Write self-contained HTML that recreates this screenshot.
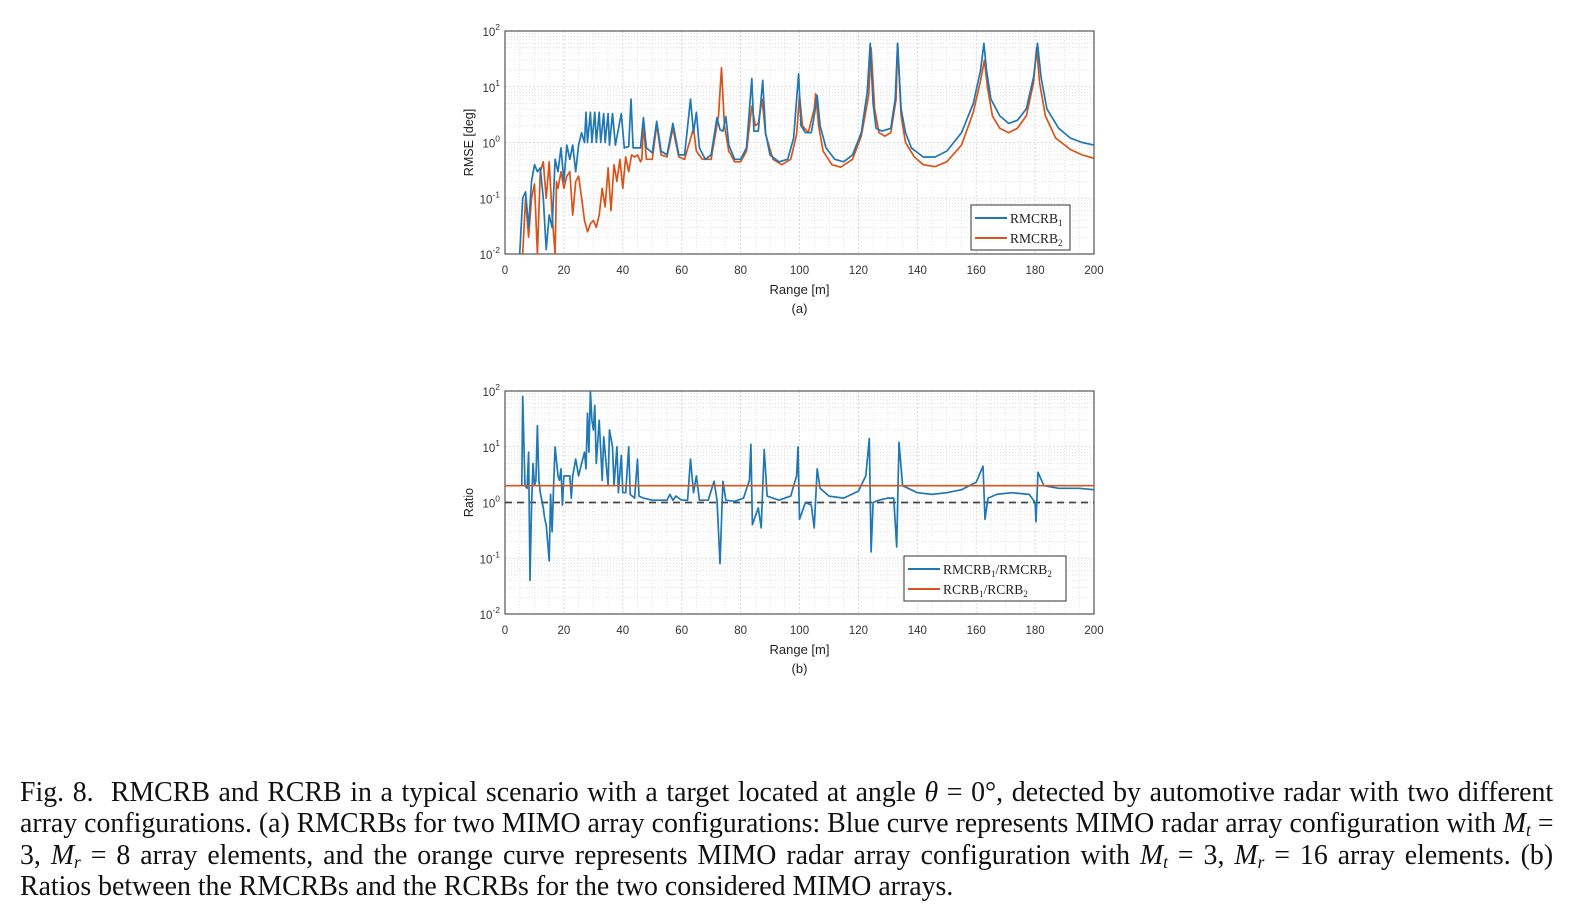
<!DOCTYPE html>
<html><head><meta charset="utf-8">
<style>
body{margin:0;background:#fff;width:1579px;height:907px;overflow:hidden;position:relative;font-family:"Liberation Sans",sans-serif}
#cap{position:absolute;left:20px;top:777px;width:1597px;transform:scaleX(0.96);transform-origin:0 0;font-family:"Liberation Serif",serif;font-size:29px;line-height:31.3px;color:#111}
#cap .j{text-align:justify;text-align-last:justify;white-space:nowrap}
#cap i{font-style:italic}
#cap sub{font-size:18px;line-height:0;vertical-align:-4px}
</style></head><body>
<svg id="svg" width="1579" height="760" style="position:absolute;left:0;top:0" font-family="Liberation Sans, sans-serif"></svg>
<div id="cap">
<div class="j">Fig. 8.&nbsp; RMCRB and RCRB in a typical scenario with a target located at angle <i>θ</i> = 0°, detected by automotive radar with two different</div>
<div class="j">array configurations. (a) RMCRBs for two MIMO array configurations: Blue curve represents MIMO radar array configuration with <i>M<sub>t</sub></i> =</div>
<div class="j">3, <i>M<sub>r</sub></i> = 8 array elements, and the orange curve represents MIMO radar array configuration with <i>M<sub>t</sub></i> = 3, <i>M<sub>r</sub></i> = 16 array elements. (b)</div>
<div>Ratios between the RMCRBs and the RCRBs for the two considered MIMO arrays.</div>
</div>
<script>
const xTicks=[0,20,40,60,80,100,120,140,160,180,200];
const yExps=[-2,-1,0,1,2];
const rm1X=[5,6,7,8,9,10,11,12,13,14,15,16,17,18,19,20,21,22,23,24,25,26,27,27.5,28,29,29.5,30.5,31,32,32.5,33.5,34,35,35.5,36.5,37.5,39.5,40.5,42,42.8,43.5,46,47,48,50,51.5,53,55,57,59,61,63,64,65,66,68,70,72,73,74,75,76,78,80,82,83.8,84.5,86,87.5,88.5,90,93,96,98,99.7,100.5,102,104,105,106,107,109,112,115,118,121,123,124,125,126,128,131,132.5,133.3,134.5,136,138,142,146,150,155,159,161.5,162.6,163.5,165,168,171,174,177,179.5,180.8,182,184,188,192,196,200];
const rm1Y=[0.01,0.1,0.13,0.03,0.2,0.4,0.3,0.35,0.1,0.012,0.05,0.03,0.5,0.3,0.8,0.2,0.9,0.5,0.9,0.3,0.9,1.5,1.0,3.5,1.0,3.5,1.0,3.5,1.0,3.5,1.0,3.3,1.0,3.3,0.9,3.3,0.9,3.3,0.8,0.85,6,0.8,0.8,2.8,0.8,0.65,2.4,0.7,0.6,2.2,0.6,0.6,6,1.5,3.5,0.8,0.5,0.6,2.8,1.7,1.6,2.9,0.9,0.5,0.5,0.8,14,1.6,1.6,13,1.5,0.6,0.45,0.5,1.2,17,2,1.5,1.5,3,7,2,0.8,0.5,0.45,0.6,1.5,8,60,5,1.8,1.6,1.8,6,60,4,1.5,0.8,0.55,0.55,0.7,1.5,5,20,60,20,6,3,2.2,2.5,4,15,60,15,4,1.8,1.2,1.0,0.9];
const rm2X=[6,7,8,9,10,11,12,13,14,15,16,17,17.5,18,19,20,21,22,23,24,25,26,27,28,29,30,31,32,33,34,35,36,37,38,39,40,41,42,43,44,45,46,46.5,47,48,50,51.5,53,55,57,59,61,64,65,67,70,72.5,73.5,74.5,76,78,80,82,83.8,85,86,87.3,88.5,91,94,97,99,100,101,103,105,105.5,106.5,108,111,114,118,121,123.5,124.3,125.5,127,129,131,132.8,133.3,134.5,136,139,142,146,150,155,159,161.5,162.8,163.8,165.5,168,171,174,177,179.5,180.5,181.5,183.5,187,192,196,200];
const rm2Y=[0.01,0.1,0.02,0.1,0.18,0.01,0.3,0.45,0.1,0.45,0.05,0.01,0.2,0.15,0.3,0.15,0.25,0.3,0.05,0.2,0.25,0.1,0.04,0.025,0.035,0.04,0.03,0.05,0.15,0.07,0.35,0.06,0.4,0.2,0.5,0.15,0.55,0.3,0.6,0.55,0.6,0.45,0.5,2.2,0.5,0.5,2.1,0.6,0.55,1.8,0.55,0.5,1.8,0.7,0.5,0.5,3,22,2,0.7,0.45,0.45,0.7,4.5,2,2.2,6,1.4,0.5,0.4,0.5,1.4,7,2,1.5,4,7.5,2,0.7,0.4,0.36,0.5,1.3,7,50,4,1.5,1.3,1.5,6,60,3,1.0,0.55,0.4,0.37,0.45,0.9,3.5,13,30,10,3,1.8,1.5,1.8,3,12,50,12,3,1.2,0.75,0.6,0.52];
const ratX=[5.7,6,6.8,7.5,8,8.5,9,9.5,10,10.5,11,11.5,12,13,13.5,14,15,15.5,16,16.5,17,18,18.5,19,19.5,20,21,22,22.5,23,24,25,26,27,27.5,28,28.5,29,29.5,30,30.5,31,32,33,33.5,34,35,35.5,36.5,37,38,38.5,39.5,40,41,42,42.5,44,45,45.5,47,50,53,55,56,57,58,60,62,63,64,65,66,69,71,72,73,74,75,78,81,83,83.5,84,86,87,88,89,93,97,99,99.5,100,102,104,105,106,107,110,115,120,122.5,123.7,124.3,125,127,130,132,133,133.8,135,140,145,150,155,160,162.3,163,164,167,172,178,180,180.3,181,183,188,195,200];
const ratY=[2,80,2,1.8,8,0.04,0.8,5,2,2.5,24,2.5,1.5,0.8,0.5,0.4,0.09,1.4,0.3,2,10,3,2.5,4,0.9,3,3,3,1.2,3,6,3,5,8,4,40,8,100,30,20,55,5,30,2.5,15,8,2,20,10,2,10,1.5,7,1.5,1.5,10,1.4,1.2,6,1.3,1.2,1.1,1.1,1.1,1.4,1.1,1.3,1.1,1.1,6,1.5,3,1.1,1.1,2.4,1.1,0.08,2.4,1.1,1.05,1.2,2.5,11,0.4,0.8,0.35,9,1.3,1.1,1.3,3,10,0.5,1,0.9,0.35,4,1.8,1.3,1.2,1.6,3,14,0.13,1,1.1,1.2,1.2,0.16,12,2,1.5,1.4,1.5,1.7,2.3,4.5,0.5,1.2,1.4,1.5,1.4,1,0.45,3.5,2,1.8,1.8,1.7];
const rcrbRatio=[2,2];
const NS='http://www.w3.org/2000/svg';
const svg=document.getElementById('svg');
function mk(tag,at,parent){const e=document.createElementNS(NS,tag);for(const k in at)e.setAttribute(k,at[k]);(parent||svg).appendChild(e);return e;}
function panel(top,yTitle,sub,name){
  const L=505,R=1094,T=top,B=top+223;
  const g=mk('g',{});
  
  
  const sx=v=>L+(v/200)*(R-L);
  const sy=v=>B-((Math.log10(v)+2)/4)*(B-T);
  mk('rect',{x:L,y:T,width:R-L,height:B-T,fill:'#fff'},g);
  for(let x=5;x<200;x+=5){ if(x%20) mk('line',{x1:sx(x),x2:sx(x),y1:T,y2:B,stroke:'#d8d8d8','stroke-width':0.7,'stroke-dasharray':'1,2'},g);}
  for(let e=-2;e<2;e++)for(let m=2;m<10;m++){const y=sy(m*Math.pow(10,e));mk('line',{x1:L,x2:R,y1:y,y2:y,stroke:'#d8d8d8','stroke-width':0.7,'stroke-dasharray':'1,2'},g);}
  xTicks.forEach(t=>{mk('line',{x1:sx(t),x2:sx(t),y1:T,y2:B,stroke:'#cfcfcf','stroke-width':0.8,'stroke-dasharray':'2,2'},g);
    const tx=mk('text',{x:sx(t),y:B+20,'font-size':11.5,'text-anchor':'middle',fill:'#333'},g);tx.textContent=t;
    
    });
  yExps.forEach(e=>{const y=sy(Math.pow(10,e));mk('line',{x1:L,x2:R,y1:y,y2:y,stroke:'#cfcfcf','stroke-width':0.8,'stroke-dasharray':'2,2'},g);
    const tx=mk('text',{x:L-5,y:y+5,'font-size':11.5,'text-anchor':'end',fill:'#333'},g);
    
    
    tx.innerHTML='10<tspan dy="-6" font-size="8.5">'+e+'</tspan>';});
  mk('rect',{x:L,y:T,width:R-L,height:B-T,fill:'none',stroke:'#333','stroke-width':1},g);
  const xl=mk('text',{x:(L+R)/2,y:B+40,'font-size':13,'text-anchor':'middle',fill:'#222'},g);xl.textContent='Range [m]';
  
  
  const sl=mk('text',{x:(L+R)/2,y:B+59,'font-size':13,'text-anchor':'middle',fill:'#222'},g);sl.textContent=sub;
  
  
  const yl=mk('text',{x:0,y:0,'font-size':12.5,'text-anchor':'middle',fill:'#222',transform:`translate(473,${(T+B)/2}) rotate(-90)`},g);yl.textContent=yTitle;
  
  
  const cp='clip'+top;const cl=mk('clipPath',{id:cp},g);mk('rect',{x:L,y:T,width:R-L,height:B-T},cl);
  return {g,sx,sy,cp,L,R,T,B};
}
function line(P,xs,ys,color,name,dash){
  const d=xs.map((x,i)=>(i?'L':'M')+P.sx(x).toFixed(1)+','+P.sy(Math.max(ys[i],0.005)).toFixed(1)).join('');
  const p=mk('path',{d,fill:'none',stroke:color,'stroke-width':1.7,'clip-path':`url(#${P.cp})`,'stroke-linejoin':'round'},P.g);
  if(dash)p.setAttribute('stroke-dasharray',dash);
  
  
}
function legend(P,x,y,w,items){
  const lg=mk('g',{},P.g);
  
  
  mk('rect',{x,y,width:w,height:items.length*20+5,fill:'#fff',stroke:'#333','stroke-width':1},lg);
  items.forEach((it,i)=>{const yy=y+13+i*20;
    mk('line',{x1:x+4,x2:x+36,y1:yy,y2:yy,stroke:it[0],'stroke-width':2},lg);
    const t=mk('text',{x:x+39,y:yy+5,'font-size':13.5,'font-family':'Liberation Serif, serif',fill:'#222'},lg);t.innerHTML=it[1];
    
    });
}
const BL='#1f77b4',OR='#d9541a';
const A=panel(31,'RMSE [deg]','(a)','rmse-chart');
line(A,rm2X,rm2Y,OR,'rmcrb2-line');
line(A,rm1X,rm1Y,BL,'rmcrb1-line');
legend(A,971,205,99,[[BL,'RMCRB<tspan font-size="9" dy="3">1</tspan>'],[OR,'RMCRB<tspan font-size="9" dy="3">2</tspan>']]);
const Bp=panel(391,'Ratio','(b)','ratio-chart');
line(Bp,[0,200],[1,1],'#444','unity-reference-line','7,5');
line(Bp,ratX,ratY,BL,'rmcrb-ratio-line');
line(Bp,[0,200],rcrbRatio,OR,'rcrb-ratio-line');
legend(Bp,904,556,162,[[BL,'RMCRB<tspan font-size="9" dy="3">1</tspan><tspan dy="-3">/RMCRB</tspan><tspan font-size="9" dy="3">2</tspan>'],[OR,'RCRB<tspan font-size="9" dy="3">1</tspan><tspan dy="-3">/RCRB</tspan><tspan font-size="9" dy="3">2</tspan>']]);
</script>
</body></html>
